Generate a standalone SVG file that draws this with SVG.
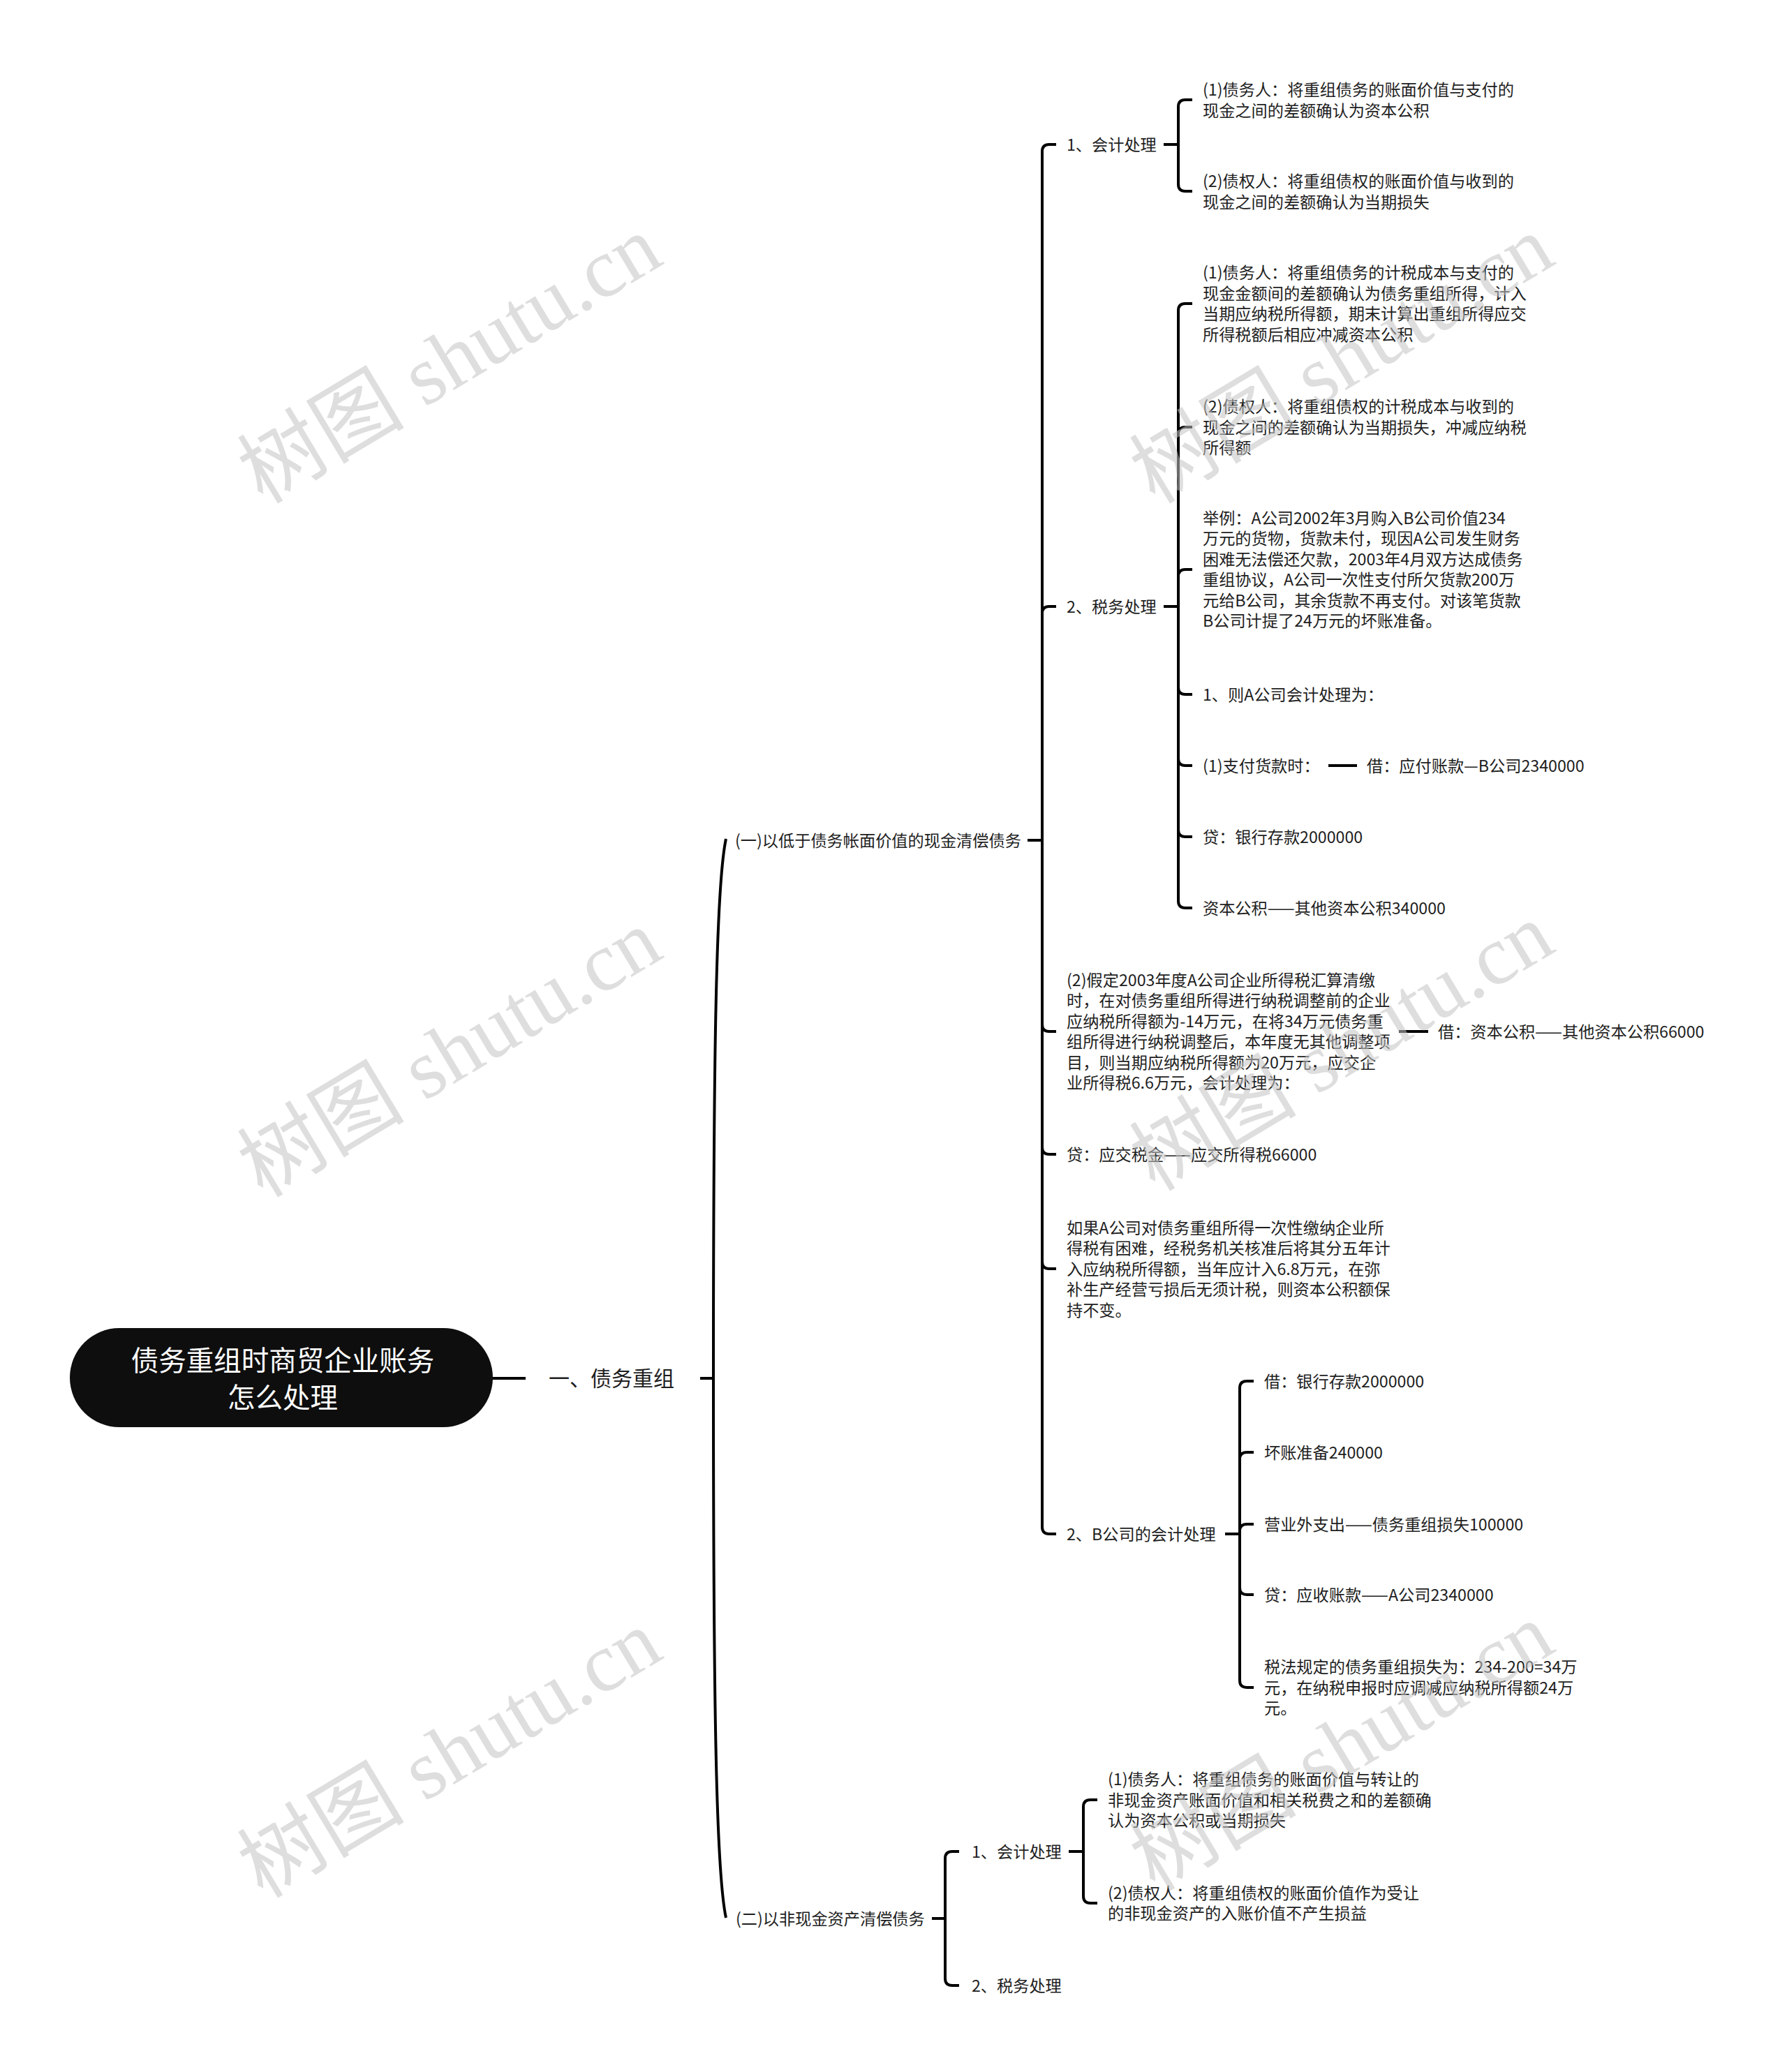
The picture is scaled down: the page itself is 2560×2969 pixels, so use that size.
<svg xmlns="http://www.w3.org/2000/svg" width="2560" height="2969" viewBox="0 0 2560 2969">
<style>
.t{font-family:"Noto Sans CJK SC","Noto Sans",sans-serif;font-size:23.2px;fill:#1e1e1e}
.l1{font-family:"Noto Sans CJK SC","Noto Sans",sans-serif;font-size:30px;fill:#1e1e1e}
.root{font-family:"Noto Sans CJK SC","Noto Sans",sans-serif;font-size:39.5px;fill:#ffffff}
.c{fill:none;stroke:#000;stroke-width:4}
.wm{font-family:"Liberation Serif","Noto Sans CJK SC",serif;font-size:120px;fill:#c4c4c4;opacity:0.55}
</style>
<rect width="2560" height="2969" fill="#ffffff"/>

<g id="connectors">
<path class="c" d="M704 1975 H753"/>
<path class="c" d="M1003 1975 H1022"/>
<path class="c" d="M1022 1975 C1022 1500 1026 1268 1040 1202"/>
<path class="c" d="M1022 1975 C1022 2450 1026 2682 1040 2748"/>
<path class="c" d="M1472 1204 H1493"/>
<path class="c" d="M1493 1204 V217 Q1493 207 1503 207 H1513"/>
<path class="c" d="M1493 1204 V879 Q1493 869 1503 869 H1513"/>
<path class="c" d="M1493 1204 V1468 Q1493 1478 1503 1478 H1513"/>
<path class="c" d="M1493 1204 V1644 Q1493 1654 1503 1654 H1513"/>
<path class="c" d="M1493 1204 V1808 Q1493 1818 1503 1818 H1513"/>
<path class="c" d="M1493 1204 V2188 Q1493 2198 1503 2198 H1513"/>
<path class="c" d="M1667 207 H1688"/>
<path class="c" d="M1688 207 V153 Q1688 143 1698 143 H1708"/>
<path class="c" d="M1688 207 V264 Q1688 274 1698 274 H1708"/>
<path class="c" d="M1667 869 H1688"/>
<path class="c" d="M1688 869 V445 Q1688 435 1698 435 H1708"/>
<path class="c" d="M1688 869 V622 Q1688 612 1698 612 H1708"/>
<path class="c" d="M1688 869 V826 Q1688 816 1698 816 H1708"/>
<path class="c" d="M1688 869 V985 Q1688 995 1698 995 H1708"/>
<path class="c" d="M1688 869 V1087 Q1688 1097 1698 1097 H1708"/>
<path class="c" d="M1688 869 V1189 Q1688 1199 1698 1199 H1708"/>
<path class="c" d="M1688 869 V1291 Q1688 1301 1698 1301 H1708"/>
<path class="c" d="M1903 1097 H1944"/>
<path class="c" d="M2004 1478 H2046"/>
<path class="c" d="M1755 2198 H1776"/>
<path class="c" d="M1776 2198 V1989 Q1776 1979 1786 1979 H1796"/>
<path class="c" d="M1776 2198 V2091 Q1776 2081 1786 2081 H1796"/>
<path class="c" d="M1776 2198 V2194 Q1776 2184 1786 2184 H1796"/>
<path class="c" d="M1776 2198 V2275 Q1776 2285 1786 2285 H1796"/>
<path class="c" d="M1776 2198 V2408 Q1776 2418 1786 2418 H1796"/>
<path class="c" d="M1335 2749 H1354"/>
<path class="c" d="M1354 2749 V2663 Q1354 2653 1364 2653 H1374"/>
<path class="c" d="M1354 2749 V2835 Q1354 2845 1364 2845 H1374"/>
<path class="c" d="M1531 2653 H1552"/>
<path class="c" d="M1552 2653 V2589 Q1552 2579 1562 2579 H1572"/>
<path class="c" d="M1552 2653 V2717 Q1552 2727 1562 2727 H1572"/>
</g>

<g id="root">
<rect x="100" y="1903" width="606" height="142" rx="71" ry="71" fill="#0e0e0e"/>
<text class="root" text-anchor="middle"><tspan x="405" y="1964">债务重组时商贸企业账务</tspan><tspan x="405" y="2017">怎么处理</tspan></text>
</g>

<g id="n-l1"><text class="l1" x="786" y="1986">一、债务重组</text></g>

<g id="n-a"><text class="t" x="1053" y="1212.5">(一)以低于债务帐面价值的现金清偿债务</text></g>

<g id="n-a1"><text class="t" x="1528" y="215.5">1、会计处理</text></g>
<g id="n-a1-1"><text class="t"><tspan x="1723" y="137">(1)债务人：将重组债务的账面价值与支付的</tspan><tspan x="1723" y="166.5">现金之间的差额确认为资本公积</tspan></text></g>
<g id="n-a1-2"><text class="t"><tspan x="1723" y="268">(2)债权人：将重组债权的账面价值与收到的</tspan><tspan x="1723" y="297.5">现金之间的差额确认为当期损失</tspan></text></g>

<g id="n-a2"><text class="t" x="1528" y="877.5">2、税务处理</text></g>
<g id="n-a2-1"><text class="t"><tspan x="1723" y="399.25">(1)债务人：将重组债务的计税成本与支付的</tspan><tspan x="1723" y="428.75">现金金额间的差额确认为债务重组所得，计入</tspan><tspan x="1723" y="458.25">当期应纳税所得额，期末计算出重组所得应交</tspan><tspan x="1723" y="487.75">所得税额后相应冲减资本公积</tspan></text></g>
<g id="n-a2-2"><text class="t"><tspan x="1723" y="591">(2)债权人：将重组债权的计税成本与收到的</tspan><tspan x="1723" y="620.5">现金之间的差额确认为当期损失，冲减应纳税</tspan><tspan x="1723" y="650">所得额</tspan></text></g>
<g id="n-a2-3"><text class="t"><tspan x="1723" y="750.75">举例：A公司2002年3月购入B公司价值234</tspan><tspan x="1723" y="780.25">万元的货物，货款未付，现因A公司发生财务</tspan><tspan x="1723" y="809.75">困难无法偿还欠款，2003年4月双方达成债务</tspan><tspan x="1723" y="839.25">重组协议，A公司一次性支付所欠货款200万</tspan><tspan x="1723" y="868.75">元给B公司，其余货款不再支付。对该笔货款</tspan><tspan x="1723" y="898.25">B公司计提了24万元的坏账准备。</tspan></text></g>
<g id="n-a2-4"><text class="t" x="1723" y="1003.5">1、则A公司会计处理为：</text></g>
<g id="n-a2-5"><text class="t" x="1723" y="1105.5">(1)支付货款时：</text></g>
<g id="n-a2-5-1"><text class="t" x="1958" y="1105.5">借：应付账款—B公司2340000</text></g>
<g id="n-a2-6"><text class="t" x="1723" y="1207.5">贷：银行存款2000000</text></g>
<g id="n-a2-7"><text class="t" x="1723" y="1309.5">资本公积——其他资本公积340000</text></g>

<g id="n-a3"><text class="t"><tspan x="1528" y="1412.75">(2)假定2003年度A公司企业所得税汇算清缴</tspan><tspan x="1528" y="1442.25">时，在对债务重组所得进行纳税调整前的企业</tspan><tspan x="1528" y="1471.75">应纳税所得额为-14万元，在将34万元债务重</tspan><tspan x="1528" y="1501.25">组所得进行纳税调整后，本年度无其他调整项</tspan><tspan x="1528" y="1530.75">目，则当期应纳税所得额为20万元，应交企</tspan><tspan x="1528" y="1560.25">业所得税6.6万元，会计处理为：</tspan></text></g>
<g id="n-a3-1"><text class="t" x="2060" y="1486.5">借：资本公积——其他资本公积66000</text></g>
<g id="n-a4"><text class="t" x="1528" y="1662.5">贷：应交税金——应交所得税66000</text></g>
<g id="n-a5"><text class="t"><tspan x="1528" y="1767.5">如果A公司对债务重组所得一次性缴纳企业所</tspan><tspan x="1528" y="1797">得税有困难，经税务机关核准后将其分五年计</tspan><tspan x="1528" y="1826.5">入应纳税所得额，当年应计入6.8万元，在弥</tspan><tspan x="1528" y="1856">补生产经营亏损后无须计税，则资本公积额保</tspan><tspan x="1528" y="1885.5">持不变。</tspan></text></g>

<g id="n-a6"><text class="t" x="1528" y="2206.5">2、B公司的会计处理</text></g>
<g id="n-a6-1"><text class="t" x="1811" y="1987.5">借：银行存款2000000</text></g>
<g id="n-a6-2"><text class="t" x="1811" y="2089.5">坏账准备240000</text></g>
<g id="n-a6-3"><text class="t" x="1811" y="2192.5">营业外支出——债务重组损失100000</text></g>
<g id="n-a6-4"><text class="t" x="1811" y="2293.5">贷：应收账款——A公司2340000</text></g>
<g id="n-a6-5"><text class="t"><tspan x="1811" y="2397">税法规定的债务重组损失为：234-200=34万</tspan><tspan x="1811" y="2426.5">元，在纳税申报时应调减应纳税所得额24万</tspan><tspan x="1811" y="2456">元。</tspan></text></g>

<g id="n-b"><text class="t" x="1054" y="2757.5">(二)以非现金资产清偿债务</text></g>
<g id="n-b1"><text class="t" x="1392" y="2661.5">1、会计处理</text></g>
<g id="n-b1-1"><text class="t"><tspan x="1587" y="2558">(1)债务人：将重组债务的账面价值与转让的</tspan><tspan x="1587" y="2587.5">非现金资产账面价值和相关税费之和的差额确</tspan><tspan x="1587" y="2617">认为资本公积或当期损失</tspan></text></g>
<g id="n-b1-2"><text class="t"><tspan x="1587" y="2720.75">(2)债权人：将重组债权的账面价值作为受让</tspan><tspan x="1587" y="2750.25">的非现金资产的入账价值不产生损益</tspan></text></g>
<g id="n-b2"><text class="t" x="1392" y="2853.5">2、税务处理</text></g>

<g id="watermarks">
<text class="wm" text-anchor="middle" transform="translate(665 550) rotate(-31)">树图 shutu.cn</text>
<text class="wm" text-anchor="middle" transform="translate(665 1544) rotate(-31)">树图 shutu.cn</text>
<text class="wm" text-anchor="middle" transform="translate(665 2548) rotate(-31)">树图 shutu.cn</text>
<text class="wm" text-anchor="middle" transform="translate(1943 550) rotate(-31)">树图 shutu.cn</text>
<text class="wm" text-anchor="middle" transform="translate(1943 1535) rotate(-31)">树图 shutu.cn</text>
<text class="wm" text-anchor="middle" transform="translate(1943 2538) rotate(-31)">树图 shutu.cn</text>
</g>
</svg>
